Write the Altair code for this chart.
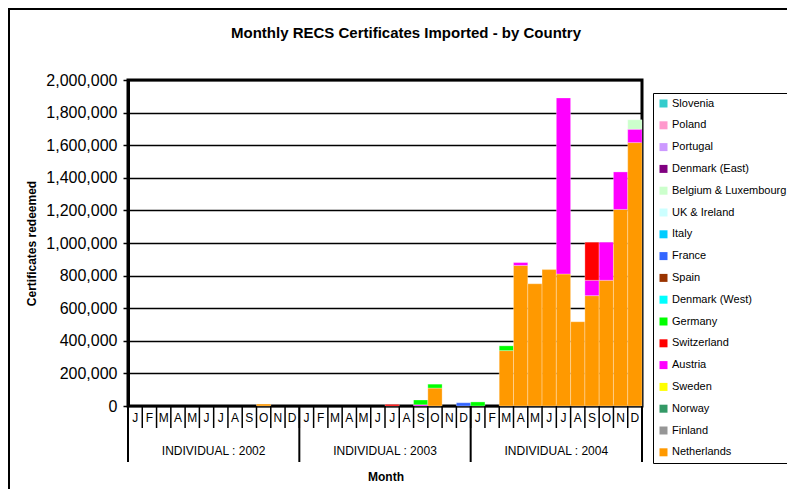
import altair as alt
import pandas as pd

FONT = "Liberation Sans"

years = ["2002", "2003", "2004"]
month_letters = ["J", "F", "M", "A", "M", "J", "J", "A", "S", "O", "N", "D"]
year_labels = ["INDIVIDUAL : 2002", "INDIVIDUAL : 2003", "INDIVIDUAL : 2004"]
y_ticks = [0, 200000, 400000, 600000, 800000, 1000000, 1200000, 1400000,
           1600000, 1800000, 2000000]

countries = ["Slovenia", "Poland", "Portugal", "Denmark (East)",
             "Belgium & Luxembourg", "UK & Ireland", "Italy", "France", "Spain",
             "Denmark (West)", "Germany", "Switzerland", "Austria", "Sweden",
             "Norway", "Finland", "Netherlands"]
colors = ["#33CCCC", "#FF99CC", "#CC99FF", "#800080", "#CCFFCC", "#CCFFFF",
          "#00CCFF", "#3366FF", "#993300", "#00FFFF", "#00FF00", "#FF0000",
          "#FF00FF", "#FFFF00", "#339966", "#969696", "#FF9900"]

rec_month = ["2002-10",
             "2003-07", "2003-09", "2003-09", "2003-10", "2003-10", "2003-12",
             "2004-01", "2004-03", "2004-03", "2004-04", "2004-04", "2004-05",
             "2004-06", "2004-07", "2004-07", "2004-08", "2004-09", "2004-09",
             "2004-09", "2004-10", "2004-10", "2004-11", "2004-11", "2004-12",
             "2004-12", "2004-12"]
rec_country = ["Netherlands",
               "Switzerland", "Austria", "Germany", "Netherlands", "Germany", "France",
               "Germany", "Netherlands", "Germany", "Netherlands", "Austria", "Netherlands",
               "Netherlands", "Netherlands", "Austria", "Netherlands", "Netherlands", "Austria",
               "Switzerland", "Netherlands", "Austria", "Netherlands", "Austria", "Netherlands",
               "Austria", "Belgium & Luxembourg"]
rec_value = [12000,
             10000, 8000, 29000, 110000, 24000, 20000,
             25000, 340000, 29000, 862000, 18000, 750000,
             837000, 810000, 1080000, 517000, 677000, 94000,
             234000, 771000, 234000, 1206000, 230000, 1616000,
             82000, 58000]

month_keys = [f"{y}-{m:02d}" for y in years for m in range(1, 13)]

df = pd.DataFrame({"month": rec_month, "country": rec_country, "value": rec_value})
df["rank"] = [len(countries) - 1 - countries.index(c) for c in df["country"]]

W, H = 514, 326

xscale = alt.Scale(domain=month_keys, paddingInner=0, paddingOuter=0)


def xenc(bp=0.5):
    return alt.X("month:O", scale=xscale, axis=None, bandPosition=bp)


bars = alt.Chart(df).mark_bar(stroke="white", strokeWidth=0.6, strokeOpacity=0.5).encode(
    x=alt.X("month:O", scale=xscale, axis=None),
    y=alt.Y("value:Q", stack="zero",
            scale=alt.Scale(domain=[0, 2000000]),
            title="Certificates redeemed",
            axis=alt.Axis(values=y_ticks, format=",d", grid=True,
                          gridColor="black", gridWidth=1.4,
                          tickColor="black", tickSize=5, tickWidth=1.5,
                          domainColor="black", domainWidth=3,
                          labelFont=FONT, labelFontSize=16, labelColor="black",
                          labelPadding=6, titleFont=FONT, titleFontSize=12,
                          titleFontWeight="bold", titleColor="black",
                          titleX=-97, titleY=H / 2, titleAngle=-90,
                          titleAlign="center", titleBaseline="middle")),
    color=alt.Color("country:N",
                    scale=alt.Scale(domain=countries, range=colors),
                    legend=alt.Legend(orient="none", legendX=525, legendY=13,
                                      title=None, padding=5, strokeColor="black",
                                      symbolType="square", symbolSize=64,
                                      symbolStrokeWidth=0, labelFont=FONT,
                                      labelFontSize=11, labelColor="black",
                                      labelOffset=3, rowPadding=9.8,
                                      labelLimit=200)),
    order=alt.Order("rank:Q", sort="ascending"),
)

# month letter row (x-axis tick labels) and month tick marks
mdf = pd.DataFrame({"month": month_keys,
                    "letter": [month_letters[int(k[5:]) - 1] for k in month_keys]})
mticks = alt.Chart(mdf).mark_rule(color="black", strokeWidth=1.5).encode(
    x=xenc(0), y=alt.value(H), y2=alt.value(H + 22),
)
mletters = alt.Chart(mdf).mark_text(font=FONT, fontSize=12, color="black",
                                    baseline="middle").encode(
    x=xenc(0.5), y=alt.value(H + 12), text="letter:N",
)

sep_df = pd.DataFrame({"month": [f"{y}-01" for y in years]})
seps = alt.Chart(sep_df).mark_rule(color="black", strokeWidth=2).encode(
    x=xenc(0), y=alt.value(H), y2=alt.value(H + 56),
)
end_df = pd.DataFrame({"month": [f"{years[-1]}-12"]})
end_sep = alt.Chart(end_df).mark_rule(color="black", strokeWidth=2).encode(
    x=xenc(1), y=alt.value(H), y2=alt.value(H + 56),
)

ylab_df = pd.DataFrame({"month": [f"{y}-07" for y in years], "label": year_labels})
ylabs = alt.Chart(ylab_df).mark_text(font=FONT, fontSize=12, color="black",
                                     baseline="middle").encode(
    x=xenc(0), y=alt.value(H + 45), text="label:N",
)

one = pd.DataFrame({"t": ["Monthly RECS Certificates Imported - by Country"],
                    "m": ["Month"]})
frame = alt.Chart(one).mark_rect(fill="transparent", stroke="black", strokeWidth=2).encode(
    x=alt.value(-119), x2=alt.value(700), y=alt.value(-71), y2=alt.value(500),
)
title = alt.Chart(one).mark_text(font=FONT, fontSize=15, fontWeight="bold",
                                 color="black", baseline="middle").encode(
    x=alt.value(W / 2 + 21), y=alt.value(-47), text="t:N",
)
xtitle = alt.Chart(one).mark_text(font=FONT, fontSize=12, fontWeight="bold",
                                  color="black", baseline="middle").encode(
    x=alt.value(W / 2 + 1), y=alt.value(H + 71), text="m:N",
)

chart = alt.layer(frame, bars, mticks, mletters, seps, end_sep, ylabs, title,
                  xtitle).properties(
    width=W, height=H, autosize="none",
    padding={"left": 120, "top": 72, "right": 145, "bottom": 83},
    background="white",
).configure_view(stroke="black", strokeWidth=3)

chart.save("out.html", embed_options={"renderer": "svg", "actions": False})
